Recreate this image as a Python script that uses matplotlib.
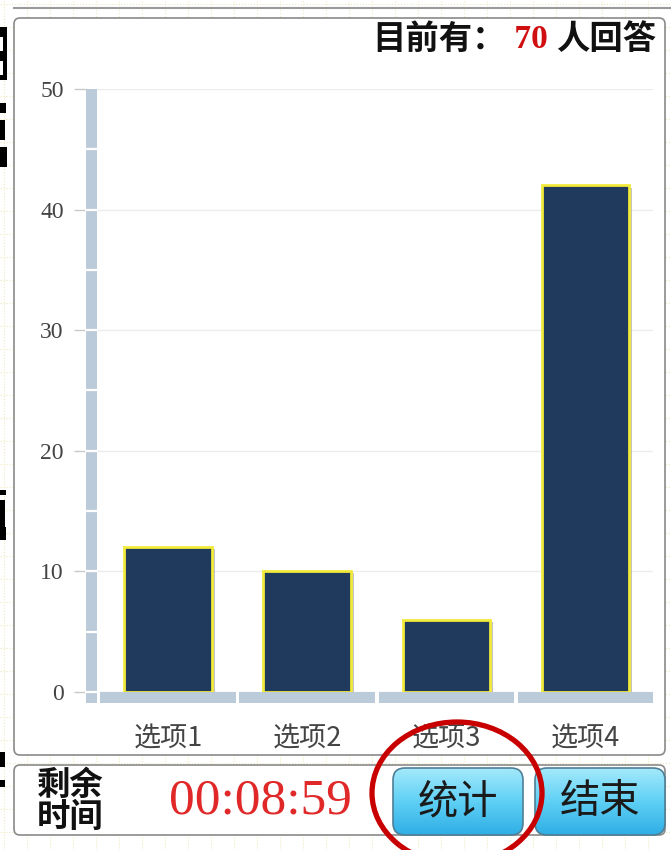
import numpy as np
import matplotlib
matplotlib.use('Agg')
import matplotlib.pyplot as plt
from matplotlib.patches import FancyBboxPatch, Ellipse, Rectangle
import matplotlib.patheffects as pe

# data
categories = ['选项1', '选项2', '选项3', '选项4']
counts = [12, 10, 6, 42]
yticks = [0, 10, 20, 30, 40, 50]
total_label = '70'
timer_text = '00:08:59'

CJK = ['Noto Sans CJK SC', 'DejaVu Sans']
SERIF = ['Liberation Serif', 'DejaVu Serif']
W, H = 671, 850

fig = plt.figure(figsize=(6.71, 8.5), dpi=100)

# background layer in pixel coords
bg = fig.add_axes([0, 0, 1, 1], zorder=0)
bg.set_xlim(0, W)
bg.set_ylim(H, 0)
bg.axis('off')
for gx in np.arange(4, W, 23):
    bg.axvline(gx, color='#efe9bf', lw=0.8, ls=':', zorder=0.5)
for gy in np.arange(4, H, 23):
    bg.axhline(gy, color='#efe9bf', lw=0.8, ls=':', zorder=0.5)
bg.plot([14, W], [8, 8], color='#9a9a9a', lw=1.5)
bg.add_patch(FancyBboxPatch((14, 18), 651, 737, boxstyle='round,pad=0,rounding_size=6',
                            fc='white', ec='#8a8a8a', lw=1.2, zorder=1))
bg.add_patch(FancyBboxPatch((14, 765), 651, 70, boxstyle='round,pad=0,rounding_size=6',
                            fc='white', ec='#8a8a8a', lw=1.2, zorder=1))
# slivers of big characters cut off at the left edge
for (rx, ry, rw, rh, c) in [(0, 27, 7, 53, 'black'), (0, 37, 3, 14, 'white'), (0, 61, 3, 14, 'white'),
                            (0, 103, 6, 10, 'black'), (0, 120, 5, 20, 'black'), (0, 147, 7, 20, 'black'),
                            (0, 490, 6, 5, 'black'), (0, 500, 5, 27, 'black'), (0, 527, 6, 13, 'black'),
                            (0, 752, 5, 15, 'black'), (0, 780, 5, 7, 'black')]:
    bg.add_patch(Rectangle((rx, ry), rw, rh, color=c, lw=0, zorder=2))

# main chart
ax = fig.add_axes([86 / W, 1 - 692 / H, (653 - 86) / W, (692 - 89) / H], zorder=1)
ax.set_facecolor('none')
x = np.arange(len(categories))
band = '#bccbd9'
ax.set_xlim(-0.589, 3.484)
ax.set_ylim(0, 50)
for s in ax.spines.values():
    s.set_visible(False)
ax.set_yticks(yticks)
ax.yaxis.grid(True, color='#ececec', lw=1)
ax.set_axisbelow(True)
ax.tick_params(axis='y', length=9, width=1, color='#c8c8c8', pad=7, labelsize=17,
               labelcolor='#444444')
ax.tick_params(axis='x', length=0, pad=24, labelsize=19.5, labelcolor='#444444')
for lb in ax.get_yticklabels():
    lb.set_family(SERIF)
ax.set_xticks(x)
ax.set_xticklabels(categories, family=CJK)

# axis bands
ax.bar(-0.55, 50, width=0.079, bottom=0, color=band, zorder=2, clip_on=False)
ax.bar(-0.55, 0.9, width=0.079, bottom=-0.9, color=band, zorder=2, clip_on=False)
ax.hlines(np.arange(0, 50, 5), -0.595, -0.505, color='white', lw=1.6, zorder=2.1, clip_on=False)
ax.bar(x, 0.9, width=0.975, bottom=-0.9, color=band, zorder=2, clip_on=False)

bars = ax.bar(x, counts, width=0.63, color='#1f3a5c', edgecolor='#f2ea3a', lw=2, zorder=3)
for b in bars:
    b.set_path_effects([pe.SimplePatchShadow(offset=(2, -1.5), shadow_rgbFace='#555555', alpha=0.35),
                        pe.Normal()])

# overlay in pixel coords
ov = fig.add_axes([0, 0, 1, 1], zorder=2)
ov.set_facecolor('none')
ov.set_xlim(0, W)
ov.set_ylim(H, 0)
ov.axis('off')

t3 = ov.text(656, 39, '人回答', ha='right', va='center', fontsize=24, fontweight='bold',
             family=CJK, color='#111111')
t2 = ov.annotate(' ' + total_label + ' ', xy=(0, 0.5), xycoords=t3, ha='right', va='center',
                 fontsize=24, fontweight='bold', family=SERIF, color='#d01010')
ov.annotate('目前有：', xy=(0, 0.5), xycoords=t2, ha='right', va='center', fontsize=24,
            fontweight='bold', family=CJK, color='#111111')

ov.text(70, 785, '剩余', ha='center', va='center', fontsize=24, fontweight='bold',
        family=CJK, color='#111111')
ov.text(70, 817, '时间', ha='center', va='center', fontsize=24, fontweight='bold',
        family=CJK, color='#111111')
ov.text(260, 801, timer_text, ha='center', va='center', fontsize=37, family=SERIF,
        color='#e02828')

grad = np.linspace(0, 1, 100)[:, None]
cmap = matplotlib.colors.LinearSegmentedColormap.from_list('btn', ['#a4e9fb', '#5fd0f5', '#2faee6'])
for bx, label in [(393, '统计'), (535, '结束')]:
    patch = FancyBboxPatch((bx, 768), 130, 67, boxstyle='round,pad=0,rounding_size=12',
                           fc='none', ec='#4f7f96', lw=1.2, zorder=3)
    ov.add_patch(patch)
    im = ov.imshow(grad, extent=(bx, bx + 130, 835, 768), cmap=cmap, aspect='auto', zorder=2)
    im.set_clip_path(patch)
    ov.text(bx + 65, 802, label, ha='center', va='center', fontsize=29, family=CJK,
            color='#1a1a1a', zorder=4)
ov.set_xlim(0, W)
ov.set_ylim(H, 0)

ov.add_patch(Ellipse((457, 793), 170, 142, fill=False, ec='#c80000', lw=3.8, zorder=5,
                     clip_on=False))

fig.savefig('out.png', dpi=100)
